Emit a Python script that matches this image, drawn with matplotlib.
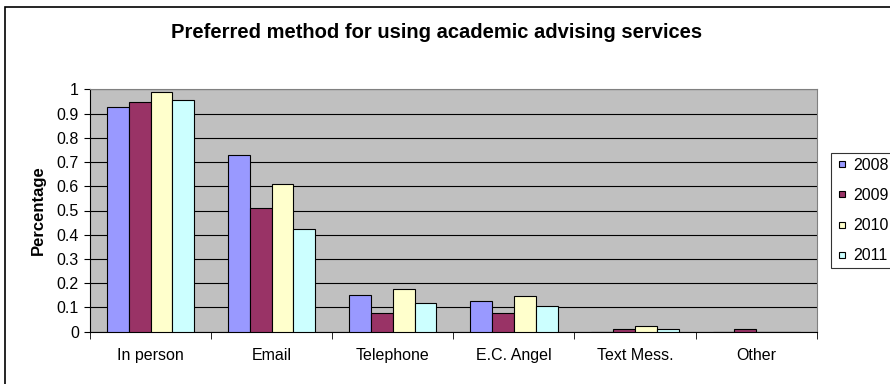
import numpy as np
import matplotlib.pyplot as plt
from matplotlib.patches import Rectangle

plt.rcParams['font.family'] = ['Liberation Sans', 'DejaVu Sans']

categories = ['In person', 'Email', 'Telephone', 'E.C. Angel', 'Text Mess.', 'Other']
years = ['2008', '2009', '2010', '2011']
v2008 = [0.926, 0.728, 0.150, 0.127, 0.0, 0.0]
v2009 = [0.946, 0.510, 0.078, 0.078, 0.010, 0.010]
v2010 = [0.990, 0.609, 0.177, 0.148, 0.025, 0.0]
v2011 = [0.955, 0.424, 0.120, 0.107, 0.012, 0.0]
series = [v2008, v2009, v2010, v2011]
colors = ['#9999FF', '#993366', '#FFFFCC', '#CCFFFF']

fig = plt.figure(figsize=(8.9, 3.84), dpi=100)
# outer chart border (runs off the right/bottom edge like the reference)
fig.patches.append(Rectangle((5 / 890, -0.1), 1.2, 1 - 7 / 384 + 0.1,
                             transform=fig.transFigure, fill=False,
                             edgecolor='black', lw=1.2))

ax = fig.add_axes([90 / 890, 1 - 331.7 / 384, 726.7 / 890, 242.4 / 384])
ax.set_facecolor('#C0C0C0')

x = np.arange(len(categories))
w = 0.18
for i, (vals, c, yr) in enumerate(zip(series, colors, years)):
    ax.bar(x + (i - 1.5) * w, vals, w, color=c, edgecolor='black', lw=0.8,
           label=yr, zorder=3)

ax.set_xlim(-0.5, len(categories) - 0.5)
ax.set_ylim(0, 1)
ax.set_yticks(np.arange(0, 1.01, 0.1))
ax.set_yticklabels(['0'] + [f'{v:.1f}' for v in np.arange(0.1, 0.95, 0.1)] + ['1'])
ax.yaxis.grid(True, color='black', lw=0.8, zorder=1)
ax.set_axisbelow(True)
ax.set_xticks(x)
ax.set_xticklabels(categories)
ax.set_xticks(np.arange(-0.5, len(categories)), minor=True)
ax.tick_params(axis='x', which='major', length=0, pad=12, labelsize=11.5)
ax.tick_params(axis='x', which='minor', length=5, color='black')
ax.tick_params(axis='y', length=4, labelsize=11.5, pad=4)
for s in ['top', 'right']:
    ax.spines[s].set_color('#808080')
ax.spines['left'].set_color('black')
ax.spines['bottom'].set_color('black')

ax.set_ylabel('Percentage', fontsize=12, fontweight='bold', labelpad=8)
fig.text(0.49, 1 - 33 / 384, 'Preferred method for using academic advising services',
         ha='center', va='center', fontsize=14.5, fontweight='bold')

handles = [plt.Line2D([], [], marker='s', ls='', markersize=4.5, markerfacecolor=c,
                      markeredgecolor='black', markeredgewidth=0.8) for c in colors]
leg = fig.legend(handles, years, loc='upper left',
                 bbox_to_anchor=(831 / 890, 1 - 153 / 384), fontsize=11.5,
                 frameon=True, fancybox=False, edgecolor='black',
                 handlelength=0.75, handletextpad=0.35, labelspacing=0.95,
                 borderpad=0.3, borderaxespad=0)
leg.get_frame().set_linewidth(0.8)

fig.savefig('out.png', dpi=100)
